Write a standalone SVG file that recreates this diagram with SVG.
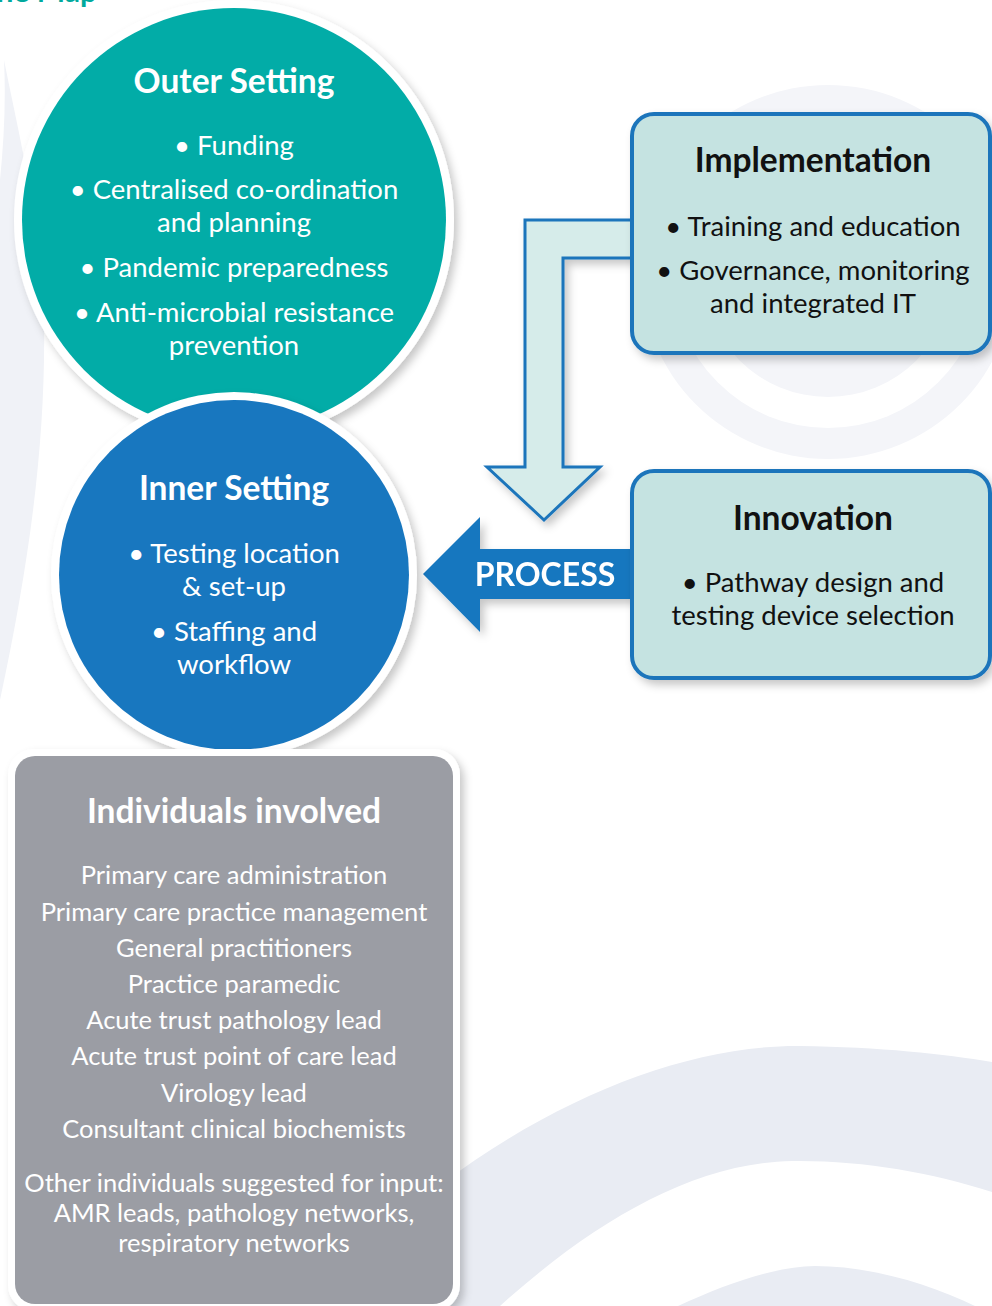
<svg xmlns="http://www.w3.org/2000/svg" width="992" height="1306" viewBox="0 0 992 1306">
  <defs>
    <filter id="shadow" x="-20%" y="-20%" width="140%" height="140%">
      <feDropShadow dx="4" dy="5" stdDeviation="4" flood-color="#000" flood-opacity="0.22"/>
    </filter>
    <style>
      text { font-family: "Lato", "Liberation Sans", sans-serif; text-anchor: middle; }
      .title-w { fill: #ffffff; font-weight: 700; font-size: 33.5px; }
      .item-w { fill: #ffffff; font-size: 27.5px; }
      .title-k { fill: #111111; font-weight: 700; font-size: 33.5px; }
      .item-k { fill: #111111; font-size: 27.5px; }
      .list { fill: #ffffff; font-size: 25.5px; }
      .bg1 { fill: #f0f2f7; }
      .bg2 { fill: #f4f5f9; }
      .bg3 { fill: #e9ecf3; }
      .box { fill: #c5e3e1; stroke: #1b75bb; stroke-width: 4; }
    </style>
  </defs>

  <rect width="992" height="1306" fill="#ffffff"/>

  <!-- background decoration -->
  <g id="background">
    <path class="bg1" d="M4,60 C20,140 42,230 44,320 C46,440 30,560 0,700 L0,180 C4,140 6,100 4,60 Z"/>
    <circle class="bg2" cx="828" cy="272" r="187"/>
    <circle fill="#ffffff" cx="828" cy="272" r="156"/>
    <circle class="bg2" cx="828" cy="272" r="125"/>
    <path class="bg3" d="M440,1185 C560,1095 690,1045 800,1046 C880,1047 945,1054 992,1062 L992,1192 C930,1172 860,1160 792,1161 C690,1163 590,1225 500,1306 L440,1306 Z"/>
    <path class="bg3" d="M678,1306 C730,1282 775,1267 815,1266 C870,1266 930,1284 975,1306 Z"/>
  </g>

  <!-- page heading, partly outside the frame -->
  <text x="97" y="2" style="text-anchor:end; fill:#00a99d; font-weight:700; font-size:30px;">he Map</text>

  <!-- connectors -->
  <g id="connectors">
    <path id="arrow-implementation" d="M640,220 L525,220 L525,467 L487,467 L544,520 L600,467 L563,467 L563,258 L640,258" fill="#d6ecea" stroke="#1b75bb" stroke-width="3" stroke-linejoin="miter" filter="url(#shadow)"/>
    <g id="arrow-process" filter="url(#shadow)">
      <path d="M640,549 L480,549 L480,517 L423,574 L480,632 L480,599 L640,599 Z" fill="#1877bf"/>
      <text x="545" y="586" style="fill:#ffffff; font-weight:700; font-size:32px;">PROCESS</text>
    </g>
  </g>

  <!-- outer setting -->
  <g id="outer-setting">
    <circle cx="234" cy="220" r="220" fill="#ffffff" filter="url(#shadow)"/>
    <circle cx="234" cy="220" r="212" fill="#02aca7"/>
    <text class="title-w" x="234" y="93">Outer Setting</text>
    <text class="item-w" x="234" y="155">• Funding</text>
    <text class="item-w" x="234" y="199">• Centralised co-ordination</text>
    <text class="item-w" x="234" y="232">and planning</text>
    <text class="item-w" x="234" y="277">• Pandemic preparedness</text>
    <text class="item-w" x="234" y="322">• Anti-microbial resistance</text>
    <text class="item-w" x="234" y="355">prevention</text>
  </g>

  <!-- inner setting -->
  <g id="inner-setting">
    <circle cx="234" cy="575" r="183" fill="#ffffff" filter="url(#shadow)"/>
    <circle cx="234" cy="575" r="175" fill="#1877bf"/>
    <text class="title-w" x="234" y="500">Inner Setting</text>
    <text class="item-w" x="234" y="563">• Testing location</text>
    <text class="item-w" x="234" y="596">&amp; set-up</text>
    <text class="item-w" x="234" y="641">• Staffing and</text>
    <text class="item-w" x="234" y="674">workflow</text>
  </g>

  <!-- implementation -->
  <g id="implementation">
    <rect class="box" x="632" y="114" width="358" height="239" rx="22" filter="url(#shadow)"/>
    <text class="title-k" x="813" y="172">Implementation</text>
    <text class="item-k" x="813" y="236">• Training and education</text>
    <text class="item-k" x="813" y="280">• Governance, monitoring</text>
    <text class="item-k" x="813" y="313">and integrated IT</text>
  </g>

  <!-- innovation -->
  <g id="innovation">
    <rect class="box" x="632" y="471" width="358" height="207" rx="22" filter="url(#shadow)"/>
    <text class="title-k" x="813" y="530">Innovation</text>
    <text class="item-k" x="813" y="592">• Pathway design and</text>
    <text class="item-k" x="813" y="625">testing device selection</text>
  </g>

  <!-- individuals involved -->
  <g id="individuals">
    <rect x="8" y="749" width="452" height="562" rx="26" fill="#ffffff" filter="url(#shadow)"/>
    <rect x="15" y="756" width="438" height="548" rx="20" fill="#9b9da4"/>
    <text class="title-w" x="234" y="823">Individuals involved</text>
    <text class="list" x="234" y="884">Primary care administration</text>
    <text class="list" x="234" y="921">Primary care practice management</text>
    <text class="list" x="234" y="957">General practitioners</text>
    <text class="list" x="234" y="993">Practice paramedic</text>
    <text class="list" x="234" y="1029">Acute trust pathology lead</text>
    <text class="list" x="234" y="1065">Acute trust point of care lead</text>
    <text class="list" x="234" y="1102">Virology lead</text>
    <text class="list" x="234" y="1138">Consultant clinical biochemists</text>
    <text class="list" x="234" y="1192">Other individuals suggested for input:</text>
    <text class="list" x="234" y="1222">AMR leads, pathology networks,</text>
    <text class="list" x="234" y="1252">respiratory networks</text>
  </g>
</svg>
